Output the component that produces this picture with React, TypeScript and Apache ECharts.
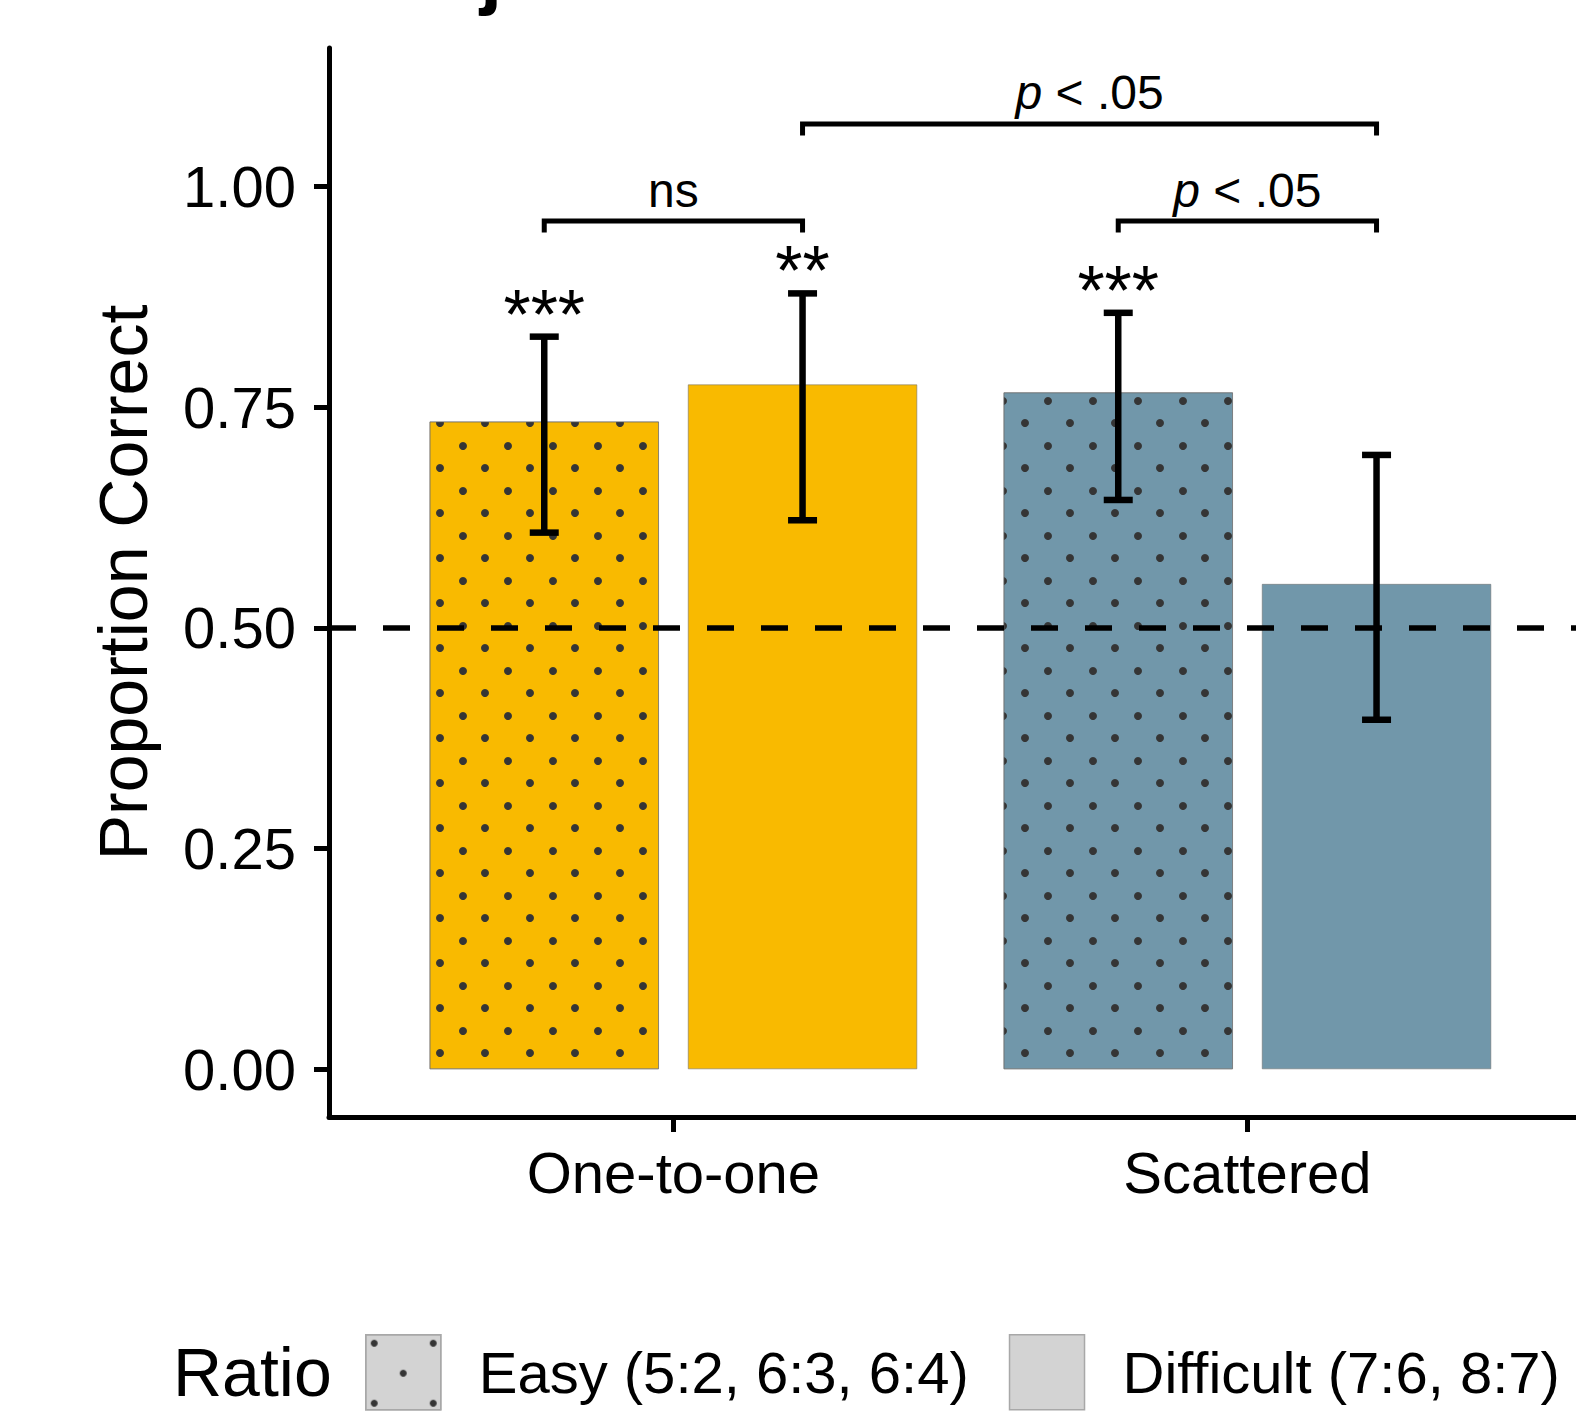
import React, { useEffect, useRef } from 'react';
import * as echarts from 'echarts';

// ---------------- data ----------------
const categories = ['One-to-one', 'Scattered'];
const ratioNames = ['Easy (5:2, 6:3, 6:4)', 'Difficult (7:6, 8:7)'];
const groupColors = ['#F9BA00', '#7197AA'];

const easyMean = [0.734, 0.767];
const easyLow = [0.608, 0.645];
const easyHigh = [0.830, 0.857];
const easySig = ['***', '***'];

const difficultMean = [0.776, 0.550];
const difficultLow = [0.622, 0.396];
const difficultHigh = [0.879, 0.696];
const difficultSig = ['**', ''];

const yTicks = [0, 0.25, 0.5, 0.75, 1];
const chanceLevel = 0.5;

// significance brackets: [groupIndex, ratioIndex]
const bracketFrom = [[0, 0], [0, 1], [1, 0]];
const bracketTo = [[0, 1], [1, 1], [1, 1]];
const bracketHeight = [0.961, 1.071, 0.961];
const bracketLabel = ['ns', 'p < .05', 'p < .05'];

// ---------------- layout / style ----------------
const FONT = '"Liberation Sans", Arial, Helvetica, sans-serif';
const DODGE = 0.225;
const TIP = 0.013;
const W = 1576;
const H = 1411;

const barX = (g: number, r: number) => g + 1 + (r === 0 ? -DODGE : DODGE);

const barDecal = {
  symbol: 'circle',
  symbolSize: 1,
  symbolKeepAspect: true,
  color: '#353535',
  dashArrayX: [[0, 45], [0, 31, 8, 6], [0, 9, 8, 28]],
  dashArrayY: [0, 14, 8, 15, 8, 0],
};

const legendDecal = {
  symbol: 'circle',
  symbolSize: 1,
  symbolKeepAspect: true,
  color: '#353535',
  dashArrayX: [[0, 76], [0, 5, 7, 52, 7, 5], [0, 34, 7, 35], [0, 5, 7, 52, 7, 5]],
  dashArrayY: [0, 5, 7, 23, 7, 23, 7, 28],
};

function buildOption() {
  const means = [easyMean, difficultMean];
  const lows = [easyLow, difficultLow];
  const highs = [easyHigh, difficultHigh];
  const sigs = [easySig, difficultSig];

  const barSeries = ratioNames.map((name, r) => ({
    name,
    type: 'bar',
    barWidth: '40%',
    barGap: '12.5%',
    itemStyle: r === 0 ? { decal: barDecal } : {},
    emphasis: { disabled: true },
    data: categories.map((_, g) => ({
      value: [g + 1, means[r][g]],
      itemStyle: {
        color: groupColors[g],
        borderColor: 'rgba(110,110,110,0.55)',
        borderWidth: 1,
        ...(r === 0 ? { decal: barDecal } : {}),
      },
    })),
    ...(r === 1
      ? {
          markLine: {
            silent: true,
            symbol: ['none', 'none'],
            label: { show: false },
            lineStyle: { type: [27, 27], width: 5.5, color: '#000' },
            data: [{ yAxis: chanceLevel }],
          },
        }
      : {}),
  }));

  const errRows: number[][] = [];
  const errLabels: string[] = [];
  for (let r = 0; r < 2; r++) {
    for (let g = 0; g < categories.length; g++) {
      errRows.push([barX(g, r), lows[r][g], highs[r][g]]);
      errLabels.push(sigs[r][g]);
    }
  }

  const bracketRows = bracketFrom.map((f, i) => [
    barX(f[0], f[1]),
    barX(bracketTo[i][0], bracketTo[i][1]),
    bracketHeight[i],
    bracketHeight[i] - TIP,
  ]);

  const errorSeries = {
    type: 'custom',
    name: 'ci',
    silent: true,
    z: 5,
    encode: { x: 0, y: [1, 2] },
    data: errRows,
    renderItem: (params: any, api: any) => {
      const x = api.value(0);
      const pLo = api.coord([x, api.value(1)]);
      const pHi = api.coord([x, api.value(2)]);
      const cap = 14.5;
      const st = { stroke: '#000', lineWidth: 6.5, lineCap: 'butt' };
      const children: any[] = [
        { type: 'line', shape: { x1: pLo[0], y1: pLo[1], x2: pHi[0], y2: pHi[1] }, style: st },
        { type: 'line', shape: { x1: pHi[0] - cap, y1: pHi[1], x2: pHi[0] + cap, y2: pHi[1] }, style: st },
        { type: 'line', shape: { x1: pLo[0] - cap, y1: pLo[1], x2: pLo[0] + cap, y2: pLo[1] }, style: st },
      ];
      const lab = errLabels[params.dataIndex];
      if (lab) {
        children.push({
          type: 'text',
          x: pHi[0],
          y: pHi[1] - 22,
          style: {
            text: lab,
            align: 'center',
            verticalAlign: 'middle',
            fontSize: 70,
            fontFamily: FONT,
            fill: '#000',
          },
        });
      }
      return { type: 'group', children };
    },
  };

  const bracketSeries = {
    type: 'custom',
    name: 'brackets',
    silent: true,
    z: 6,
    encode: { x: [0, 1], y: [2, 3] },
    data: bracketRows,
    renderItem: (params: any, api: any) => {
      const a = api.coord([api.value(0), api.value(2)]);
      const b = api.coord([api.value(1), api.value(2)]);
      const aT = api.coord([api.value(0), api.value(3)]);
      const bT = api.coord([api.value(1), api.value(3)]);
      const label = bracketLabel[params.dataIndex];
      const isP = label.indexOf('p ') === 0;
      const text = isP ? '{i|p}' + label.slice(1) : label;
      return {
        type: 'group',
        children: [
          {
            type: 'polyline',
            shape: { points: [[aT[0], aT[1]], [a[0], a[1]], [b[0], b[1]], [bT[0], bT[1]]] },
            style: { stroke: '#000', lineWidth: 5, fill: 'none', lineJoin: 'miter' },
          },
          {
            type: 'text',
            x: (a[0] + b[0]) / 2,
            y: a[1] - 31,
            style: {
              text,
              align: 'center',
              verticalAlign: 'middle',
              fontSize: 48,
              fontFamily: FONT,
              fill: '#000',
              rich: {
                i: { fontStyle: 'italic', fontSize: 48, fontFamily: FONT, fill: '#000' },
              },
            },
          },
        ],
      };
    },
  };

  return {
    animation: false,
    backgroundColor: '#ffffff',
    textStyle: { fontFamily: FONT },
    grid: {
      left: 329,
      right: 0,
      top: 48,
      bottom: 294,
      containLabel: false,
      outerBoundsMode: 'none',
    },
    xAxis: {
      type: 'value',
      min: 0.4,
      max: 2.5725,
      splitLine: { show: false },
      axisLine: { show: true, onZero: false, lineStyle: { color: '#000', width: 5 } },
      axisTick: { show: true, length: 15, customValues: [1, 2], lineStyle: { color: '#000', width: 5 } },
      axisLabel: {
        customValues: [1, 2],
        formatter: (v: number) => categories[Math.round(v) - 1] ?? '',
        fontSize: 58,
        color: '#000',
        fontFamily: FONT,
        margin: 26,
      },
    },
    yAxis: {
      type: 'value',
      min: -0.054,
      max: 1.157,
      splitLine: { show: false },
      axisLine: { show: true, onZero: false, lineStyle: { color: '#000', width: 5 } },
      axisTick: { show: true, length: 15, customValues: yTicks, lineStyle: { color: '#000', width: 5 } },
      axisLabel: {
        customValues: yTicks,
        formatter: (v: number) => v.toFixed(2),
        fontSize: 58,
        color: '#000',
        fontFamily: FONT,
        margin: 33,
      },
      name: 'Proportion Correct',
      nameLocation: 'middle',
      nameGap: 172,
      nameTextStyle: { fontSize: 68, color: '#000', fontFamily: FONT },
    },
    legend: {
      left: 365,
      top: 1334,
      padding: 0,
      orient: 'horizontal',
      icon: 'rect',
      itemWidth: 75,
      itemHeight: 75,
      itemGap: 40,
      selectedMode: false,
      textStyle: { fontSize: 58, color: '#000', fontFamily: FONT, padding: [0, 0, 0, 33] },
      data: [
        {
          name: ratioNames[0],
          itemStyle: { color: '#D3D3D3', borderColor: '#A8A8A8', borderWidth: 1.5, decal: legendDecal },
        },
        {
          name: ratioNames[1],
          itemStyle: { color: '#D3D3D3', borderColor: '#A8A8A8', borderWidth: 1.5 },
        },
      ],
    },
    graphic: [
      {
        type: 'text',
        x: 173,
        y: 1372,
        style: { text: 'Ratio', fontSize: 68, fontFamily: FONT, fill: '#000', verticalAlign: 'middle' },
      },
      {
        type: 'text',
        x: 480,
        y: -29,
        style: { text: 'j', fontSize: 80, fontWeight: 'bold', fontFamily: FONT, fill: '#000', verticalAlign: 'middle' },
      },
    ],
    series: [...barSeries, errorSeries, bracketSeries],
  };
}

export default function App() {
  const ref = useRef<HTMLDivElement>(null);
  useEffect(() => {
    if (!ref.current) return;
    const chart = echarts.init(ref.current, null, { renderer: 'svg', width: W, height: H });
    chart.setOption(buildOption() as any);
    return () => chart.dispose();
  }, []);
  return (
    <div
      ref={ref}
      style={{ position: 'absolute', left: 0, top: 0, width: W, height: H, background: '#fff' }}
    />
  );
}
